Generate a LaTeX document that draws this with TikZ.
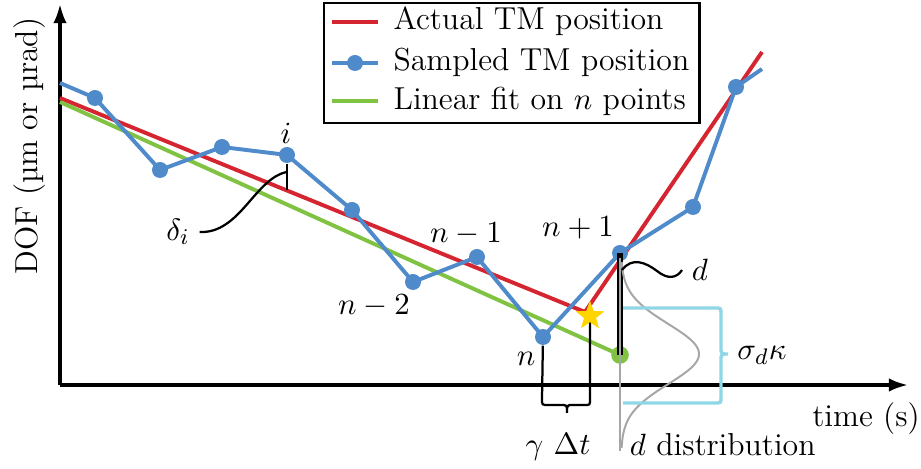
\documentclass[tikz,border=0pt]{standalone}
\usepackage{fontspec}
\usepackage{amsmath}
\usetikzlibrary{arrows.meta,positioning,shapes.geometric}
\definecolor{tmred}{HTML}{D42530}
\definecolor{tmblue}{HTML}{4F8BCB}
\definecolor{fitgreen}{HTML}{80C241}
\definecolor{sigcyan}{HTML}{8FD6E6}
\definecolor{distgray}{HTML}{A6A6A6}
\definecolor{stargold}{HTML}{FFD500}

\begin{document}
\begin{tikzpicture}[x=0.0125cm,y=-0.0125cm,font=\fontsize{11.3}{13}\selectfont]
    \tikzset{
      axis/.style={draw=black,line width=1.2pt,-{Latex[length=2.4mm,width=1.7mm]}},
      actual/.style={draw=tmred,line width=1.4pt},
      sampled/.style={draw=tmblue,line width=1.4pt},
      fit/.style={draw=fitgreen,line width=1.4pt},
      dot/.style={circle,fill=tmblue,inner sep=0pt,minimum size=0.2cm},
      guide/.style={draw=black,line width=0.8pt},
      bracket/.style={draw=sigcyan,line width=1.2pt},
      hitstar/.style={star,star points=5,star point ratio=2.4,fill=stargold,inner sep=0pt,minimum size=0.37cm}
    }
    \useasboundingbox (0,0) rectangle (921,469);
    % axes
    \coordinate (origin) at (60,385);
    \coordinate (ytop) at (60,4);
    \coordinate (xend) at (908,385);
    \draw[axis] (origin) -- (ytop);
    \draw[axis] (origin) -- (xend);
    \node[rotate=90,anchor=base] (ylabel) at (37,146) {DOF (µm or µrad)};
    \node[anchor=base] (xlabel) at (866,427) {time (s)};
    % actual position and fit
    \coordinate (redstart) at (60,98);
    \coordinate (kink) at (585,312);
    \coordinate (redend) at (762,52);
    \coordinate (greenstart) at (60,102);
    \coordinate (greenend) at (620,355);
    \draw[actual] (redstart) -- (kink) -- (redend);
    \draw[fit] (greenstart) -- (greenend);
    % sampled position
    \coordinate (bluestart) at (60,83);
    \coordinate (blueend) at (762,69);
    \foreach \name/\px/\py in {s1/95/98,s2/160/170,s3/222/147,i/287/155,s5/352/210,nm2/413/282,nm1/477/257,n/543/337,np1/620/253,s10/693/207,s11/736/87}
      \coordinate (p\name) at (\px,\py);
    \draw[sampled] (bluestart) -- (ps1) -- (ps2) -- (ps3) -- (pi) -- (ps5) -- (pnm2) -- (pnm1) -- (pn) -- (pnp1) -- (ps10) -- (ps11) -- (blueend);
    \foreach \name in {s1,s2,s3,i,s5,nm2,nm1,n,np1,s10,s11}
      \node[dot] (\name) at (p\name) {};
    \node[circle,fill=fitgreen,inner sep=0pt,minimum size=0.22cm] (fitend) at (greenend) {};
    \node[hitstar] (hit) at (590,316) {};
    % deviation d and its distribution
    \draw[line width=2.4pt] (np1.center) -- (fitend.center);
    \coordinate (disttop) at (620,258);
    \coordinate (distbot) at (620,451);
    \draw[distgray,line width=0.7pt] (disttop) -- (distbot);
    \draw[distgray,line width=0.7pt] plot[domain=262:448,samples=90,variable=\t] ({621+78*exp(-(\t-354)^2/1800)},\t);
    \node (dlabel) at (700,270) {$d$};
    \draw[guide] (622,270) .. controls (632,257) and (645,262) .. (657,271) .. controls (668,280) and (677,278) .. (dlabel.west);
    \node[anchor=base west] (distlabel) at (620,456) {$d$ distribution};
    % sigma bracket
    \coordinate (sigtop) at (623,308);
    \coordinate (sigbot) at (623,403);
    \draw[bracket] (sigtop) -- (715,308) .. controls (721,308) .. (721,314) -- (721,347) .. controls (721,354) .. (728,354) .. controls (721,354) .. (721,361) -- (721,397) .. controls (721,403) .. (715,403) -- (sigbot);
    \node (siglabel) at (762,355) {$\sigma_d\kappa$};
    % delay brace
    \draw[guide] (n) -- (542,399) .. controls (542,405) .. (548,405) -- (561,405) .. controls (567,405) .. (567,413) .. controls (567,405) .. (573,405) -- (585,405) .. controls (590,405) .. (590,399) -- (hit.center);
    \node[hitstar] at (hit) {};
    \node[anchor=base] (gammalabel) at (558,455) {$\gamma\ \Delta t$};
    % residual delta_i
    \coordinate (deltafoot) at (287,190);
    \coordinate (deltamid) at (287,172);
    \draw[guide] (i) -- (deltafoot);
    \node (deltalabel) at (178,232) {$\delta_i$};
    \draw[guide] (deltalabel.east) .. controls (240,234) and (255,178) .. (deltamid);
    % point labels
    \node (ilabel) at (286,133) {$i$};
    \node (nm1label) at (466,234) {$n-1$};
    \node (nm2label) at (374,306) {$n-2$};
    \node (nlabel) at (526,359) {$n$};
    \node (np1label) at (578,228) {$n+1$};
    % legend
    \node[draw,line width=0.8pt,anchor=north west,minimum width=4.69cm,minimum height=1.5cm,inner sep=0pt] (legend) at (323,2) {};
    \draw[actual] (332,22) -- (378,22);
    \draw[sampled] (332,63) -- (378,63);
    \node[dot] (legdot) at (355,63) {};
    \draw[fit] (332,101) -- (378,101);
    \node[anchor=base west,inner sep=0pt] (legred) at (393,30) {Actual TM position};
    \node[anchor=base west,inner sep=0pt] (legblue) at (393,71) {Sampled TM position};
    \node[anchor=base west,inner sep=0pt] (leggreen) at (393,110) {Linear fit on $n$ points};
  \end{tikzpicture}
\end{document}
